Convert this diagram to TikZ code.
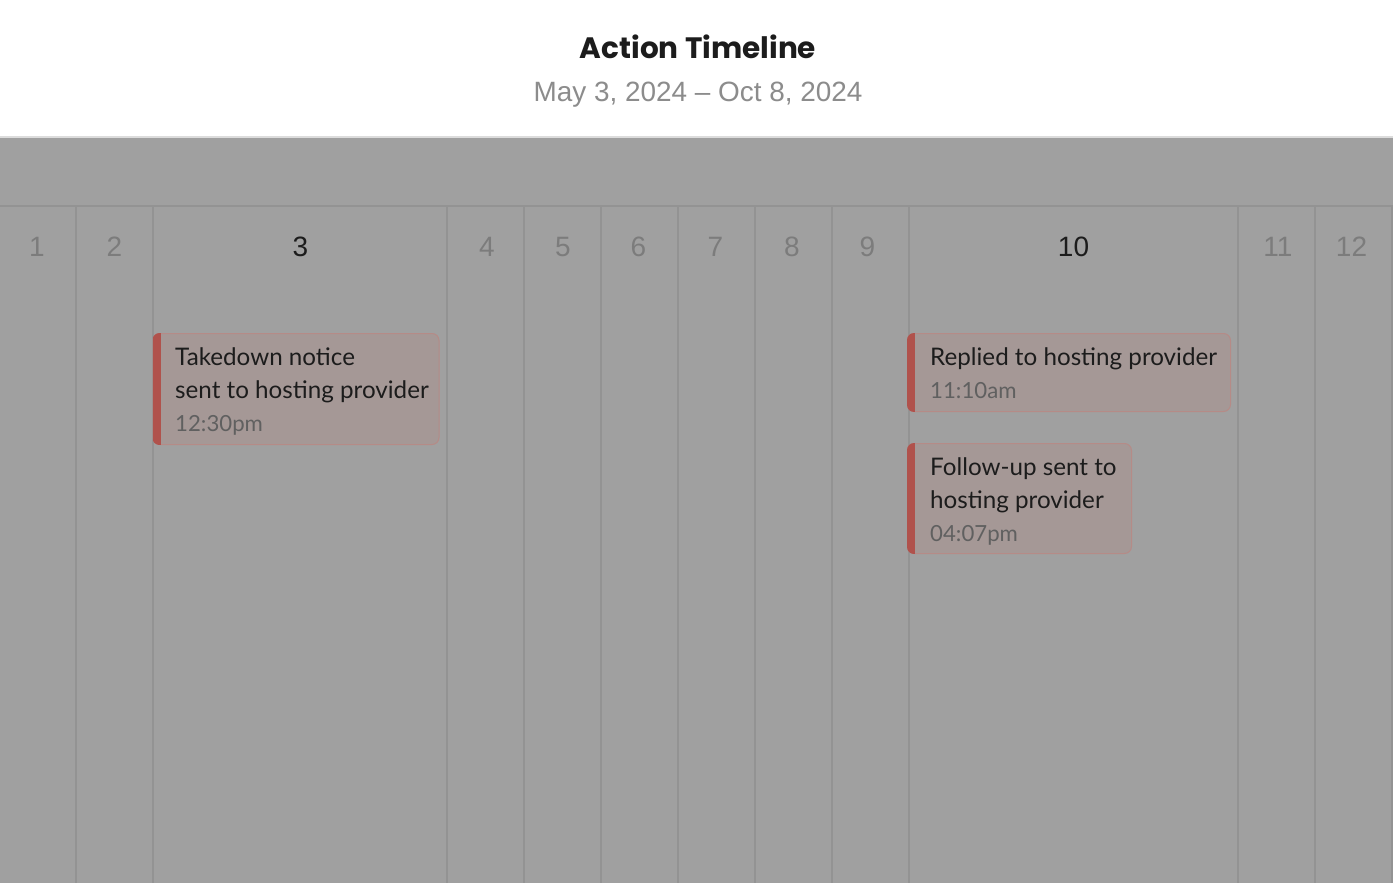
\documentclass[tikz,border=0pt]{standalone}
\usepackage{fontspec}
\setmainfont{Liberation Sans}
\newfontfamily\cardfont{Lato}
\newfontfamily\titlefont{Poppins}
\definecolor{pagebg}{HTML}{A0A0A0}
\definecolor{sepline}{HTML}{DCDCDC}
\definecolor{gridline}{HTML}{939393}
\definecolor{daygray}{HTML}{7C7C7C}
\definecolor{inkdark}{HTML}{1C1C1C}
\definecolor{subgray}{HTML}{8C8C8C}
\definecolor{cardfill}{HTML}{A59896}
\definecolor{cardedge}{HTML}{B58B87}
\definecolor{cardbar}{HTML}{B0524C}
\definecolor{timegray}{HTML}{606060}
\begin{document}
\begin{tikzpicture}[x=1pt,y=-1pt,
  gridv/.style={draw=gridline,line width=1.8pt},
  dayno/.style={anchor=base,inner sep=0pt,font=\fontsize{28}{28}\selectfont,text=daygray},
  dayact/.style={dayno,text=inkdark},
  cardbox/.style={draw=cardedge,fill=cardfill,line width=1pt,rounded corners=7pt,anchor=north west,inner sep=0pt},
  cardtxt/.style={anchor=base west,inner sep=0pt,font=\cardfont\fontsize{24.2}{24.2}\selectfont,text=inkdark},
  cardtime/.style={anchor=base west,inner sep=0pt,font=\cardfont\fontsize{22.2}{22.2}\selectfont,text=timegray},
]
\useasboundingbox (0,0) rectangle (1393,883);
\fill[white] (0,0) rectangle (1393,137);
\fill[pagebg] (0,137) rectangle (1393,883);
\draw[sepline,line width=2pt] (0,137) -- (1393,137);
\draw[gridline,line width=2pt] (0,206) -- (1393,206);
\foreach \gx in {76,153,447,524,601,678,755,832,909,1238,1315,1392}
  \draw[gridv] (\gx,206) -- (\gx,883);

% title
\node[anchor=base,inner sep=0pt,font=\titlefont\bfseries\fontsize{29.5}{29.5}\selectfont,text=inkdark] (title) at (698,59) {Action Timeline};
\node[anchor=base,inner sep=0pt,font=\fontsize{27.9}{27.9}\selectfont,text=subgray] (subtitle) at (698,102) {May 3, 2024 – Oct 8, 2024};

% day numbers
\node[dayno] (d1) at (37,256) {1};
\node[dayno] (d2) at (114.5,256) {2};
\node[dayact] (d3) at (300.5,256) {3};
\node[dayno] (d4) at (487,256) {4};
\node[dayno] (d5) at (563,256) {5};
\node[dayno] (d6) at (638.5,256) {6};
\node[dayno] (d7) at (715.5,256) {7};
\node[dayno] (d8) at (792,256) {8};
\node[dayno] (d9) at (867.5,256) {9};
\node[dayact] (d10) at (1073.5,256) {10};
\node[dayno] (d11) at (1278,256) {11};
\node[dayno] (d12) at (1351.5,256) {12};

% cards
\node[cardbox,minimum width=286pt,minimum height=111pt] (c1) at (152.5,333) {};
\node[cardbox,minimum width=323pt,minimum height=78pt] (c2) at (907,333) {};
\node[cardbox,minimum width=224pt,minimum height=110pt] (c3) at (907,443) {};
\foreach \cn in {c1,c2,c3}{
  \begin{scope}
    \clip[rounded corners=7pt] (\cn.north west) rectangle (\cn.south east);
    \fill[cardbar] (\cn.north west) rectangle ([xshift=8pt]\cn.south west);
  \end{scope}
}

\node[cardtxt] (c1a) at (175,365) {Takedown notice};
\node[cardtxt] (c1b) at (175,398) {sent to hosting provider};
\node[cardtime] (c1c) at (175,431) {12:30pm};

\node[cardtxt] (c2a) at (930,365) {Replied to hosting provider};
\node[cardtime] (c2b) at (930,398) {11:10am};

\node[cardtxt] (c3a) at (930,475) {Follow-up sent to};
\node[cardtxt] (c3b) at (930,508) {hosting provider};
\node[cardtime] (c3c) at (930,541) {04:07pm};
\end{tikzpicture}
\end{document}
